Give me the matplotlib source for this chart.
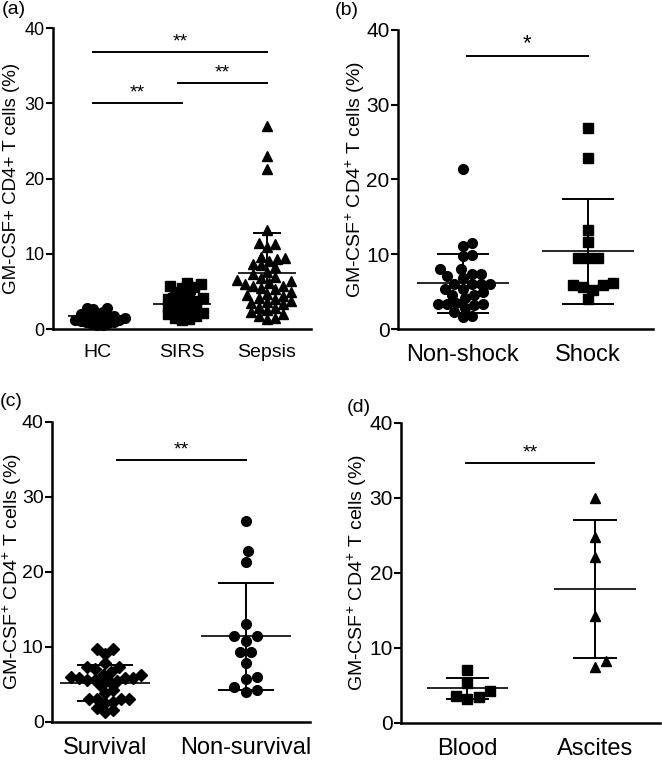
import matplotlib
matplotlib.use('Agg')
import matplotlib.pyplot as plt
import numpy as np

plt.rcParams['font.family'] = ['Liberation Sans', 'DejaVu Sans']
plt.rcParams['mathtext.default'] = 'regular'

# --- (a) HC / SIRS / Sepsis ---
a_groups = ['HC', 'SIRS', 'Sepsis']
hc_vals = [2.8, 2.7, 2.8, 2.3, 2.1, 2.0, 1.8, 1.7, 1.6, 1.5, 1.4, 1.3, 1.2,
           1.1, 1.0, 0.9, 0.8, 0.7, 0.6, 0.5, 1.5, 1.2]
sirs_vals = [6.2, 6.0, 5.8, 5.6, 5.5, 5.0, 4.5, 4.2, 4.0, 3.8, 3.5, 3.3, 3.0,
             2.8, 2.6, 2.5, 2.3, 2.1, 2.0, 1.8, 1.5, 1.3, 1.2, 4.8, 3.6]
sepsis_vals = [27.0, 23.0, 21.3, 13.2, 11.4, 11.3, 10.9, 9.6, 9.5, 9.3, 9.0,
               8.7, 8.5, 8.2, 7.6, 7.3, 7.0, 6.8, 6.5, 6.2, 6.0, 5.8, 5.7,
               5.5, 5.3, 5.0, 4.7, 4.5, 4.2, 4.0, 3.8, 3.5, 3.3, 3.0, 2.8,
               2.5, 2.3, 2.0, 1.8, 1.5, 1.3, 4.4, 6.4, 3.6]
a_mean = [1.7, 3.3, 7.5]
a_sd = [0.6, 1.4, 5.3]

# --- (b) Non-shock / Shock ---
b_groups = ['Non-shock', 'Shock']
nonshock_vals = [21.4, 11.1, 11.5, 9.8, 9.9, 8.1, 8.1, 7.4, 7.1, 6.9, 7.4,
                 6.1, 6.0, 6.1, 6.1, 5.4, 5.4, 4.9, 4.6, 4.6, 4.2, 3.5, 3.2,
                 3.4, 3.3, 3.3, 2.8, 2.3, 1.7, 1.6]
shock_vals = [26.9, 22.9, 13.2, 11.6, 9.5, 9.5, 9.5, 6.2, 5.9, 5.6, 5.9, 5.2, 4.0]
b_mean = [6.15, 10.4]
b_sd = [3.95, 7.05]

# --- (c) Survival / Non-survival ---
c_groups = ['Survival', 'Non-survival']
survival_vals = [9.7, 9.1, 9.7, 7.9, 7.3, 7.0, 7.3, 6.6, 5.9, 5.9, 5.6, 5.9,
                 5.6, 6.3, 6.3, 5.4, 5.4, 4.3, 3.8, 3.0, 2.7, 3.0, 3.0, 3.0,
                 2.5, 1.8, 1.6, 1.3, 4.8, 6.0]
nonsurvival_vals = [26.8, 22.8, 21.3, 13.1, 11.4, 11.5, 10.8, 9.3, 9.3, 7.9,
                    6.0, 5.7, 4.7, 4.0, 4.2]
c_mean = [5.2, 11.4]
c_sd = [2.45, 7.1]

# --- (d) Blood / Ascites ---
d_groups = ['Blood', 'Ascites']
blood_vals = [7.1, 5.3, 4.3, 3.6, 3.2, 3.4]
ascites_vals = [30.0, 24.8, 22.1, 14.3, 7.5, 8.2]
d_mean = [4.6, 17.9]
d_sd = [1.4, 9.2]

yticks = [0, 10, 20, 30, 40]
ylab_plain = 'GM-CSF+ CD4+ T cells (%)'
ylab_sup = r'GM-CSF$^{+}$ CD4$^{+}$ T cells (%)'

fig = plt.figure(figsize=(6.62, 7.62), dpi=100)


def swarm_x(ax, x0, values, diam):
    """simple beeswarm: spread points sideways (in pixels) so they don't overlap"""
    vals = np.asarray(values, dtype=float)
    tr = ax.transData
    base = tr.transform(np.column_stack([np.full(len(vals), x0), vals]))
    order = np.argsort(vals)
    placed = []
    xs_px = np.zeros(len(vals))
    step = diam / 4.0
    cands = [0.0]
    for k in range(1, 80):
        cands += [k * step, -k * step]
    for i in order:
        px, py = base[i]
        for c in cands:
            ok = True
            for qx, qy in placed:
                if (px + c - qx) ** 2 + (py - qy) ** 2 < diam ** 2:
                    ok = False
                    break
            if ok:
                break
        xs_px[i] = px + c
        placed.append((px + c, py))
    inv = tr.inverted()
    return inv.transform(np.column_stack([xs_px, base[:, 1]]))[:, 0]


def setup_axes(rect, xlim, ylabel, label_size, tick_size, ylab_size, xpad, ylab_x):
    ax = fig.add_axes(rect)
    ax.set_xlim(*xlim)
    ax.set_ylim(0, 40)
    ax.set_yticks(yticks)
    for s in ['top', 'right']:
        ax.spines[s].set_visible(False)
    for s in ['left', 'bottom']:
        ax.spines[s].set_linewidth(1.8)
    ax.tick_params(axis='y', direction='out', length=5, width=1.5,
                   labelsize=tick_size, pad=1)
    ax.tick_params(axis='x', length=0, labelsize=label_size, pad=xpad)
    ax.set_ylabel(ylabel, fontsize=ylab_size)
    ax.yaxis.set_label_coords(ylab_x, 0.5)
    return ax


def draw_group(ax, x0, values, mean, sd, marker, ms, mean_w, cap_w, diam):
    ax.vlines(x0, mean - sd, mean + sd, color='black', lw=1.4, zorder=2)
    ax.hlines(mean, x0 - mean_w, x0 + mean_w, color='black', lw=1.2, zorder=2)
    ax.hlines([mean - sd, mean + sd], x0 - cap_w, x0 + cap_w, color='black',
              lw=1.4, zorder=2)
    xs = swarm_x(ax, x0, values, diam)
    ax.plot(xs, values, linestyle='none', marker=marker, ms=ms,
            color='black', mec='black', zorder=3, clip_on=False)


def sig_bar(ax, x1, x2, y, txt, size=14):
    ax.plot([x1, x2], [y, y], color='black', lw=1.4, clip_on=False)
    ax.text((x1 + x2) / 2, y + 0.2, txt, ha='center', va='bottom',
            fontsize=size)


# (a)
ax_a = setup_axes([0.080, 0.568, 0.390, 0.395], (0.48, 3.52), ylab_plain,
                  14, 13, 13.5, 11, -0.128)
pos_a = [1, 2, 3]
for x0, vals, m, s, mk, dm in zip(pos_a, [hc_vals, sirs_vals, sepsis_vals],
                                  a_mean, a_sd, ['o', 's', '^'], [5.5, 7.0, 8.0]):
    draw_group(ax_a, x0, vals, m, s, mk, 7.0, 0.34, 0.17, dm)
ax_a.set_xticks(pos_a)
ax_a.set_xticklabels(a_groups)
sig_bar(ax_a, 0.95, 3.0, 36.9, '**')
sig_bar(ax_a, 0.95, 2.0, 30.0, '**')
sig_bar(ax_a, 1.95, 3.0, 32.7, '**')

# (b)
ax_b = setup_axes([0.601, 0.568, 0.385, 0.393], (0.48, 2.52), ylab_sup,
                  17, 15, 14, 11, -0.122)
pos_b = [1, 2]
for x0, vals, m, s, mk, dm in zip(pos_b, [nonshock_vals, shock_vals],
                                  b_mean, b_sd, ['o', 's'], [9.0, 10.0]):
    draw_group(ax_b, x0, vals, m, s, mk, 7.0, 0.37, 0.21, dm)
ax_b.set_xticks(pos_b)
ax_b.set_xticklabels(b_groups)
sig_bar(ax_b, 1.03, 2.0, 36.5, '*', 16)

# (c)
ax_c = setup_axes([0.0785, 0.0525, 0.390, 0.394], (0.62, 2.46), ylab_sup,
                  17, 14, 14, 11, -0.109)
pos_c = [1, 2]
for x0, vals, m, s, mk, ms, dm in zip(pos_c, [survival_vals, nonsurvival_vals],
                                      c_mean, c_sd, ['D', 'o'], [6.0, 7.0],
                                      [8.0, 11.5]):
    draw_group(ax_c, x0, vals, m, s, mk, ms, 0.32, 0.2, dm)
ax_c.set_xticks(pos_c)
ax_c.set_xticklabels(c_groups)
sig_bar(ax_c, 1.08, 2.0, 34.9, '**')

# (d)
ax_d = setup_axes([0.606, 0.0512, 0.391, 0.394], (0.48, 2.51), ylab_sup,
                  17, 15, 14, 11, -0.124)
pos_d = [1, 2]
for x0, vals, m, s, mk in zip(pos_d, [blood_vals, ascites_vals],
                              d_mean, d_sd, ['s', '^']):
    draw_group(ax_d, x0, vals, m, s, mk, 7.0, 0.32, 0.17, 11.5)
ax_d.set_xticks(pos_d)
ax_d.set_xticklabels(d_groups)
sig_bar(ax_d, 0.99, 1.99, 34.7, '**')

# panel letters
fig.text(0.003, 0.999, '(a)', fontsize=14, va='top')
fig.text(0.506, 0.997, '(b)', fontsize=14, va='top')
fig.text(0.000, 0.484, '(c)', fontsize=14, va='top')
fig.text(0.524, 0.476, '(d)', fontsize=14, va='top')

fig.savefig('out.png', dpi=100)
